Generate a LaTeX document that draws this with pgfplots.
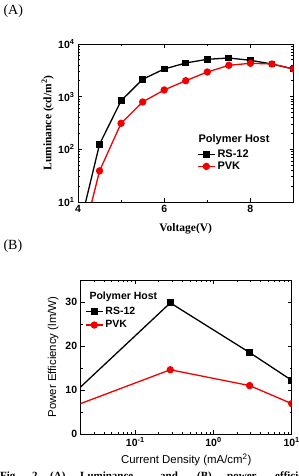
\documentclass[border=0pt]{standalone}
\usepackage{fontspec}
\setmainfont{Liberation Sans}
\newfontfamily\tnr{Liberation Serif}
\usepackage{pgfplots}
\pgfplotsset{compat=1.18}

\definecolor{pvkred}{RGB}{240,0,0}

\pgfplotsset{
  panel/.style={
    scale only axis, anchor=south west,
    tick align=inside,
    major tick length=4pt, minor tick length=2.2pt,
    every tick/.style={black, line width=0.8pt},
    axis line style={line width=0.9pt},
    ticklabel style={font=\fontsize{10.5}{12}\selectfont\bfseries},
    legend cell align=left,
    clip marker paths=true,
  },
  rs/.style={black, line width=1.3pt, mark=square*, mark size=2.8pt},
  pvk/.style={pvkred, line width=1.3pt, mark=*, mark size=3pt},
}

\begin{document}
\begin{tikzpicture}

% ---------- (A) luminance versus voltage ----------
\begin{axis}[panel,
  at={(78pt,274pt)}, width=215.5pt, height=158pt,
  xmin=4, xmax=9, ymin=10, ymax=10000, ymode=log,
  xtick={4,6,8}, xticklabels={4,6,8}, minor xtick={5,7,9},
  ytick={10,100,1000,10000},
  yticklabels={10\textsuperscript{1},10\textsuperscript{2},10\textsuperscript{3},10\textsuperscript{4}},
  minor ytick={20,30,40,50,60,70,80,90,200,300,400,500,600,700,800,900,2000,3000,4000,5000,6000,7000,8000,9000},
  xlabel={\tnr\bfseries\fontsize{11.5}{12}\selectfont Voltage(V)},
  ylabel={\tnr\bfseries\fontsize{11.5}{12}\selectfont Luminance (cd/m\textsuperscript{2})},
  xlabel style={at={(axis description cs:0.5,-0.171)}, anchor=center},
  ylabel style={at={(axis description cs:-0.1406,0.5)}, anchor=center},
  legend style={draw=none, fill=none, at={(axis description cs:0.552,0.345)}, anchor=north west,
    font=\fontsize{11}{12}\selectfont\bfseries, row sep=-1pt, inner sep=0pt},
]
\addplot[rs] coordinates {
  (4.0,2.5) (4.5,125) (5.0,838) (5.5,2140) (6.0,3350) (6.5,4360)
  (7.0,5120) (7.5,5420) (8.0,4900) (8.5,4170) (9.0,3350)};
\addlegendentry{RS-12}
\addplot[pvk] coordinates {
  (4.0,0.9) (4.5,39) (5.0,312) (5.5,793) (6.0,1340) (6.5,2010)
  (7.0,2940) (7.5,3940) (8.0,4300) (8.5,4170) (9.0,3350)};
\addlegendentry{PVK}
\node[font=\fontsize{11}{12}\selectfont\bfseries, anchor=center]
  at (axis description cs:0.724,0.392) {Polymer Host};
\end{axis}

% ---------- (B) power efficiency versus current density ----------
\begin{axis}[panel,
  at={(80.7pt,42pt)}, width=211pt, height=154pt,
  xmode=log, xmin=0.02, xmax=10, ymin=0, ymax=35,
  xtick={0.1,1,10},
  xticklabels={10\textsuperscript{-1},10\textsuperscript{0},10\textsuperscript{1}},
  minor xtick={0.03,0.04,0.05,0.06,0.07,0.08,0.09,0.2,0.3,0.4,0.5,0.6,0.7,0.8,0.9,2,3,4,5,6,7,8,9},
  ytick={0,10,20,30}, yticklabels={0,10,20,30}, minor ytick={5,15,25,35},
  xlabel={\fontsize{11.4}{12}\selectfont Current Density (mA/cm\textsuperscript{2})},
  ylabel={\fontsize{11.4}{12}\selectfont Power Efficiency (lm/W)},
  xlabel style={at={(axis description cs:0.5,-0.169)}, anchor=center},
  ylabel style={at={(axis description cs:-0.131,0.5)}, anchor=center},
  legend style={draw=none, fill=none, at={(axis description cs:0.02,0.84)}, anchor=north west,
    font=\fontsize{10.5}{12}\selectfont\bfseries, row sep=1pt, inner sep=0pt},
]
\addplot[rs] coordinates {(0.01,5.7) (0.28,29.8) (2.9,18.5) (10,12.2)};
\addlegendentry{RS-12}
\addplot[pvk] coordinates {(0.01,4.9) (0.28,14.6) (2.9,11.0) (10,6.9)};
\addlegendentry{PVK}
\node[font=\fontsize{10.5}{12}\selectfont\bfseries, anchor=west]
  at (axis description cs:0.025,0.89) {Polymer Host};
\end{axis}

% panel letters
\node[font=\tnr\fontsize{14}{14}\selectfont, anchor=west] at (0pt,465pt) {(A)};
\node[font=\tnr\fontsize{14}{14}\selectfont, anchor=west] at (0pt,230pt) {(B)};

% figure caption running below the page edge
\begin{scope}[every node/.style={font=\tnr\bfseries\fontsize{11}{12}\selectfont, anchor=base west, inner sep=0pt}]
\node at (0pt,-3.5pt) {Fig.};
\node at (32pt,-3.5pt) {2.};
\node at (50pt,-3.5pt) {(A)};
\node at (80pt,-3.5pt) {Luminance};
\node at (160pt,-3.5pt) {and};
\node at (197pt,-3.5pt) {(B)};
\node at (227pt,-3.5pt) {power};
\node at (275pt,-3.5pt) {efficiency};
\end{scope}

\pgfresetboundingbox
\useasboundingbox (0pt,0pt) rectangle (299pt,476pt);
\end{tikzpicture}
\end{document}
